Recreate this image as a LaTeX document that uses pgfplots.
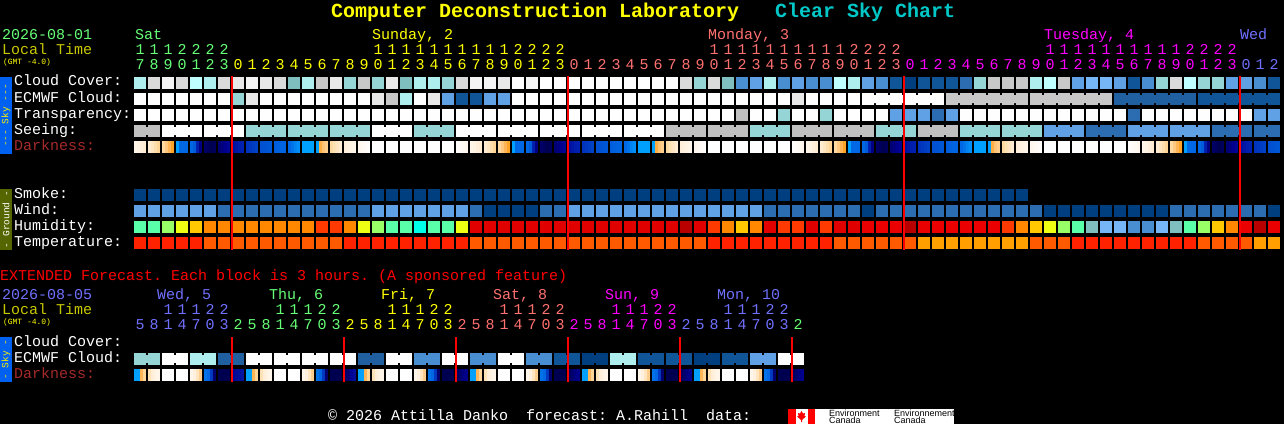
\documentclass[border=0pt]{standalone}
\usepackage{fontspec}
\setmainfont{Liberation Mono}
\newfontfamily\sans{Liberation Sans}
\usepackage{pgfplots}
\pgfplotsset{compat=1.18}
\pgfdeclareplotmark{cell}{\pgfpathrectangle{\pgfpoint{-6pt}{-6pt}}{\pgfpoint{12pt}{12pt}}\pgfusepathqfill}
\pgfdeclareplotmark{slice}{\pgfpathrectangle{\pgfpoint{-1.5pt}{-6pt}}{\pgfpoint{3pt}{12pt}}\pgfusepathqfill}
\pgfdeclareplotmark{linktwo}{\pgfpathrectangle{\pgfpoint{-1.5pt}{-4pt}}{\pgfpoint{3pt}{8pt}}\pgfusepathqfill}
\pgfdeclareplotmark{linkthree}{\pgfpathrectangle{\pgfpoint{-8.5pt}{-4pt}}{\pgfpoint{3pt}{8pt}}\pgfpathrectangle{\pgfpoint{5.5pt}{-4pt}}{\pgfpoint{3pt}{8pt}}\pgfusepathqfill}
\pgfdeclareplotmark{linksix}{\pgfpathrectangle{\pgfpoint{-29.5pt}{-4pt}}{\pgfpoint{3pt}{8pt}}\pgfpathrectangle{\pgfpoint{-15.5pt}{-4pt}}{\pgfpoint{3pt}{8pt}}\pgfpathrectangle{\pgfpoint{-1.5pt}{-4pt}}{\pgfpoint{3pt}{8pt}}\pgfpathrectangle{\pgfpoint{12.5pt}{-4pt}}{\pgfpoint{3pt}{8pt}}\pgfpathrectangle{\pgfpoint{26.5pt}{-4pt}}{\pgfpoint{3pt}{8pt}}\pgfusepathqfill}
\pgfplotsset{
 colormap={all}{rgb255(0pt)=(0,0,80) rgb255(10pt)=(0,0,140) rgb255(20pt)=(0,32,176) rgb255(30pt)=(0,80,208) rgb255(40pt)=(0,104,228)
  rgb255(50pt)=(0,160,255) rgb255(55pt)=(0,160,200) rgb255(56pt)=(255,160,32) rgb255(65pt)=(255,192,112) rgb255(75pt)=(255,220,168)
  rgb255(85pt)=(255,238,216) rgb255(95pt)=(255,248,240) rgb255(100pt)=(254,254,254)
  rgb255(200pt)=(0,63,127) rgb255(201pt)=(17,85,153) rgb255(202pt)=(44,108,176) rgb255(203pt)=(74,142,210) rgb255(204pt)=(96,160,228) rgb255(205pt)=(118,182,246)
  rgb255(206pt)=(128,191,191) rgb255(207pt)=(150,213,213) rgb255(208pt)=(174,238,238) rgb255(209pt)=(191,255,255) rgb255(210pt)=(192,192,192) rgb255(211pt)=(200,200,200)
  rgb255(212pt)=(218,218,218) rgb255(213pt)=(232,232,232) rgb255(214pt)=(244,244,244) rgb255(215pt)=(254,254,254)
  rgb255(216pt)=(90,255,170) rgb255(217pt)=(153,255,102) rgb255(218pt)=(238,255,20) rgb255(219pt)=(255,200,0) rgb255(220pt)=(255,136,0) rgb255(221pt)=(255,58,0)
  rgb255(222pt)=(224,0,0) rgb255(223pt)=(184,0,0) rgb255(224pt)=(0,255,232) rgb255(225pt)=(255,34,0) rgb255(226pt)=(255,90,0) rgb255(227pt)=(255,160,0) rgb255(228pt)=(32,96,160) rgb255(229pt)=(234,0,0)},
 pts/.style={only marks,scatter,scatter/use mapped color={fill=mapped color,draw=none},forget plot},
 }
\tikzset{
 t/.style={anchor=base west,inner sep=0pt,outer sep=0pt,text=#1,font=\fontsize{15}{15}\selectfont},
 d/.style={anchor=base,inner sep=0pt,outer sep=0pt,text=#1,font=\fontsize{15}{15}\selectfont},
 big/.style={anchor=base west,inner sep=0pt,outer sep=0pt,text=#1,font=\fontsize{20}{20}\selectfont\bfseries},
 tiny/.style={anchor=base west,inner sep=0pt,outer sep=0pt,text=#1,font=\fontsize{8}{8}\selectfont},
 side/.style={inner sep=0pt,outer sep=0pt,rotate=90,text=#1,font=\fontsize{9.5}{9.5}\selectfont},
 lg/.style={anchor=base west,inner sep=0pt,outer sep=0pt,text=black,font=\sans\fontsize{9}{9}\selectfont},
}
\definecolor{cSat}{RGB}{102,255,119}
\definecolor{cSun}{RGB}{255,255,0}
\definecolor{cMon}{RGB}{255,112,112}
\definecolor{cTue}{RGB}{255,0,255}
\definecolor{cWed}{RGB}{112,112,255}
\definecolor{cLoc}{RGB}{200,200,0}
\definecolor{cDark}{RGB}{165,42,42}
\definecolor{cCyan}{RGB}{0,200,200}
\definecolor{cSky}{RGB}{0,96,240}
\definecolor{cGnd}{RGB}{85,102,0}
\newcommand\row[2]{\addplot[pts,mark=cell,point meta={\thisrowno{0}+200}] table[row sep=\\,header=false,x expr=\coordindex,y expr=#1]{#2};}
\newcommand\links[3]{\addplot[pts,mark=#1,point meta={\thisrowno{1}+200}] table[row sep=\\,header=false,x index=0,y expr=#2]{#3};}
\newcommand\dark[2]{\addplot[pts,mark=slice,point meta={\thisrowno{0}}] table[row sep=\\,header=false,x expr={floor((\coordindex+0.5)/4)+(\coordindex-4*floor((\coordindex+0.5)/4)-1.5)*3/14},y expr=#1]{#2};}
% hour labels: start column, colour, tens baseline, units baseline, hours
\newcommand\hours[5]{\foreach \h [count=\c from #1] in {#5}{%
  \pgfmathsetmacro\xx{140+14*\c}\pgfmathtruncatemacro\tn{\h/10}\pgfmathtruncatemacro\un{mod(\h,10)}%
  \ifnum\h>9 \node[d=#2] at (\xx,#3) {\tn};\fi
  \node[d=#2] at (\xx,#4) {\un};}}
\begin{document}
\frenchspacing
\begin{tikzpicture}
\fill[black] (0,0) rectangle (1284pt,424pt);
\begin{axis}[hide axis,scale only axis,width=1284pt,height=424pt,xmin=-10,xmax=81.7142857,ymin=0,ymax=424,y dir=reverse,colormap name=all,point meta min=0,point meta max=229]
% Cloud Cover
\row{83}{8\\12\\14\\12\\9\\8\\12\\13\\14\\13\\12\\6\\8\\11\\13\\7\\11\\7\\13\\6\\8\\8\\7\\12\\14\\14\\13\\15\\14\\15\\15\\15\\15\\15\\15\\15\\15\\15\\15\\12\\7\\12\\6\\3\\4\\8\\3\\4\\3\\3\\9\\8\\4\\3\\1\\0\\1\\1\\1\\2\\7\\11\\11\\11\\8\\9\\11\\4\\5\\5\\4\\1\\3\\7\\12\\9\\7\\7\\4\\4\\3\\1\\}
% ECMWF Cloud
\row{99}{15\\15\\15\\15\\15\\15\\15\\7\\13\\15\\15\\15\\15\\15\\15\\15\\15\\13\\11\\8\\15\\13\\4\\1\\1\\4\\4\\15\\15\\15\\15\\15\\15\\15\\15\\15\\15\\15\\15\\15\\15\\15\\15\\15\\15\\15\\15\\13\\15\\15\\15\\15\\15\\15\\15\\15\\15\\15\\11\\11\\11\\11\\11\\11\\11\\11\\11\\11\\11\\11\\28\\28\\28\\28\\28\\28\\1\\1\\1\\1\\1\\1\\}
\links{linksix}{99}{54.5 15\\60.5 11\\66.5 11\\72.5 28\\78.5 1\\}
% Transparency
\row{115}{15\\15\\15\\15\\15\\15\\15\\15\\15\\15\\15\\15\\15\\15\\15\\15\\15\\15\\15\\15\\15\\15\\15\\15\\15\\15\\15\\15\\15\\15\\15\\15\\15\\15\\15\\15\\15\\15\\15\\15\\15\\15\\15\\10\\15\\15\\7\\15\\15\\7\\15\\15\\15\\15\\4\\4\\4\\2\\4\\15\\15\\15\\15\\15\\15\\15\\15\\15\\15\\15\\15\\2\\15\\15\\15\\15\\15\\15\\15\\15\\4\\4\\}
% Seeing
\row{131}{10\\10\\15\\15\\15\\15\\15\\15\\7\\7\\7\\7\\7\\7\\7\\7\\7\\15\\15\\15\\7\\7\\7\\15\\15\\15\\15\\15\\15\\15\\15\\15\\15\\15\\15\\15\\15\\15\\10\\10\\10\\10\\10\\10\\7\\7\\7\\10\\10\\10\\10\\10\\10\\7\\7\\7\\10\\10\\10\\7\\7\\7\\7\\7\\7\\4\\4\\4\\2\\2\\2\\4\\4\\4\\4\\4\\4\\2\\2\\2\\2\\2\\}
\links{linkthree}{131}{3 15\\6 15\\9 7\\12 7\\15 7\\18 15\\21 7\\24 15\\27 15\\30 15\\33 15\\36 15\\39 10\\42 10\\45 7\\48 10\\51 10\\54 7\\57 10\\60 7\\63 7\\66 4\\69 2\\72 4\\75 4\\78 2\\}
\links{linktwo}{131}{0.5 10\\80.5 2\\}
% Darkness
\dark{147}{92\\90\\87\\84\\84\\80\\76\\72\\74\\68\\62\\57\\50\\40\\40\\40\\40\\35\\20\\8\\4\\2\\0\\2\\6\\8\\10\\12\\15\\17\\19\\20\\24\\25\\26\\27\\30\\31\\32\\33\\36\\37\\38\\38\\40\\42\\45\\47\\50\\50\\50\\50\\50\\60\\66\\70\\74\\78\\80\\84\\86\\88\\90\\92\\94\\96\\97\\99\\100\\100\\100\\100\\100\\100\\100\\100\\100\\100\\100\\100\\100\\100\\100\\100\\100\\100\\100\\100\\100\\100\\100\\100\\99\\97\\96\\94\\
92\\90\\87\\84\\84\\80\\76\\72\\74\\68\\62\\57\\50\\40\\40\\40\\40\\35\\20\\8\\4\\2\\0\\2\\6\\8\\10\\12\\15\\17\\19\\20\\24\\25\\26\\27\\30\\31\\32\\33\\36\\37\\38\\38\\40\\42\\45\\47\\50\\50\\50\\50\\50\\60\\66\\70\\74\\78\\80\\84\\86\\88\\90\\92\\94\\96\\97\\99\\100\\100\\100\\100\\100\\100\\100\\100\\100\\100\\100\\100\\100\\100\\100\\100\\100\\100\\100\\100\\100\\100\\100\\100\\99\\97\\96\\94\\
92\\90\\87\\84\\84\\80\\76\\72\\74\\68\\62\\57\\50\\40\\40\\40\\40\\35\\20\\8\\4\\2\\0\\2\\6\\8\\10\\12\\15\\17\\19\\20\\24\\25\\26\\27\\30\\31\\32\\33\\36\\37\\38\\38\\40\\42\\45\\47\\50\\50\\50\\50\\50\\60\\66\\70\\74\\78\\80\\84\\86\\88\\90\\92\\94\\96\\97\\99\\100\\100\\100\\100\\100\\100\\100\\100\\100\\100\\100\\100\\100\\100\\100\\100\\100\\100\\100\\100\\100\\100\\100\\100\\99\\97\\96\\94\\
92\\90\\87\\84\\84\\80\\76\\72\\74\\68\\62\\57\\50\\40\\40\\40\\40\\35\\20\\8\\4\\2\\0\\2\\6\\8\\10\\12\\15\\17\\19\\20\\24\\25\\26\\27\\30\\31\\32\\33\\}
% Smoke
\row{195}{0\\0\\0\\0\\0\\0\\0\\0\\0\\0\\0\\0\\0\\0\\0\\0\\0\\0\\0\\0\\0\\0\\0\\0\\0\\0\\0\\0\\0\\0\\0\\0\\0\\0\\0\\0\\0\\0\\0\\0\\0\\0\\0\\0\\0\\0\\0\\0\\0\\0\\0\\0\\0\\0\\0\\0\\0\\0\\0\\0\\0\\0\\0\\0\\}
% Wind
\row{211}{4\\4\\4\\4\\4\\4\\2\\2\\2\\2\\2\\2\\2\\2\\2\\2\\2\\4\\4\\4\\4\\4\\4\\4\\2\\0\\0\\0\\0\\2\\2\\4\\4\\4\\4\\4\\4\\4\\4\\4\\4\\4\\4\\4\\4\\2\\2\\2\\2\\2\\2\\2\\0\\2\\2\\2\\2\\2\\2\\2\\2\\2\\2\\2\\2\\0\\0\\0\\0\\0\\0\\0\\0\\0\\2\\2\\2\\2\\2\\2\\2\\0\\}
% Humidity
\row{227}{16\\16\\17\\18\\19\\20\\20\\20\\20\\20\\20\\20\\20\\21\\21\\20\\18\\17\\16\\16\\24\\16\\16\\18\\22\\22\\22\\22\\22\\22\\22\\22\\22\\22\\22\\22\\22\\22\\22\\23\\22\\21\\20\\19\\20\\22\\21\\21\\22\\21\\22\\22\\29\\29\\29\\23\\29\\29\\29\\29\\29\\29\\21\\20\\19\\18\\17\\16\\6\\5\\5\\3\\3\\5\\6\\16\\17\\19\\20\\29\\23\\29\\}
% Temperature
\row{243}{25\\25\\25\\25\\25\\26\\26\\26\\26\\26\\26\\26\\26\\26\\26\\25\\25\\25\\25\\25\\25\\25\\25\\25\\26\\26\\26\\26\\26\\26\\26\\26\\26\\26\\26\\26\\26\\26\\26\\26\\26\\25\\25\\25\\25\\25\\25\\25\\25\\25\\26\\26\\26\\26\\26\\26\\27\\27\\27\\27\\27\\27\\27\\27\\26\\26\\26\\25\\25\\25\\25\\25\\25\\25\\25\\25\\26\\26\\26\\26\\27\\27\\}
% Extended ECMWF Cloud
\row{359}{7\\7\\15\\15\\8\\8\\28\\28\\15\\15\\15\\15\\15\\15\\15\\15\\28\\28\\15\\15\\3\\3\\15\\15\\3\\3\\15\\15\\3\\3\\1\\1\\0\\0\\8\\8\\1\\1\\1\\1\\0\\0\\1\\1\\4\\4\\15\\15\\}
\links{linktwo}{359}{0.5 7\\2.5 15\\4.5 8\\6.5 28\\8.5 15\\10.5 15\\12.5 15\\14.5 15\\16.5 28\\18.5 15\\20.5 3\\22.5 15\\24.5 3\\26.5 15\\28.5 3\\30.5 1\\32.5 0\\34.5 8\\36.5 1\\38.5 1\\40.5 0\\42.5 1\\44.5 4\\46.5 15\\}
% Extended Darkness
\dark{375}{50\\50\\62\\72\\78\\85\\90\\92\\100\\100\\100\\100\\100\\100\\100\\100\\92\\88\\80\\70\\42\\40\\25\\5\\0\\0\\0\\0\\12\\14\\15\\16\\
50\\50\\62\\72\\78\\85\\90\\92\\100\\100\\100\\100\\100\\100\\100\\100\\92\\88\\80\\70\\42\\40\\25\\5\\0\\0\\0\\0\\4\\6\\12\\14\\
50\\50\\62\\72\\78\\85\\90\\92\\100\\100\\100\\100\\100\\100\\100\\100\\92\\88\\80\\70\\42\\40\\25\\5\\0\\0\\0\\0\\2\\5\\8\\10\\
50\\50\\62\\72\\78\\85\\90\\92\\100\\100\\100\\100\\100\\100\\100\\100\\92\\88\\80\\70\\42\\40\\25\\5\\0\\0\\0\\0\\2\\5\\8\\10\\
50\\50\\62\\72\\78\\85\\90\\92\\100\\100\\100\\100\\100\\100\\100\\100\\92\\88\\80\\70\\42\\40\\25\\5\\0\\0\\0\\0\\2\\5\\8\\10\\
50\\50\\62\\72\\78\\85\\90\\92\\100\\100\\100\\100\\100\\100\\100\\100\\92\\88\\80\\70\\42\\40\\25\\5\\0\\0\\0\\0\\2\\5\\8\\10\\}
\end{axis}
% Red day dividers, over the cells
\begin{axis}[hide axis,scale only axis,width=1284pt,height=424pt,xmin=-10,xmax=81.7142857,ymin=0,ymax=424,y dir=reverse]
\addplot[red,line width=2pt,forget plot] coordinates {(6.5714,76)(6.5714,250)};
\addplot[red,line width=2pt,forget plot] coordinates {(30.5714,76)(30.5714,250)};
\addplot[red,line width=2pt,forget plot] coordinates {(54.5714,76)(54.5714,250)};
\addplot[red,line width=2pt,forget plot] coordinates {(78.5714,76)(78.5714,250)};
\addplot[red,line width=2pt,forget plot] coordinates {(6.5714,337)(6.5714,382)};
\addplot[red,line width=2pt,forget plot] coordinates {(14.5714,337)(14.5714,382)};
\addplot[red,line width=2pt,forget plot] coordinates {(22.5714,337)(22.5714,382)};
\addplot[red,line width=2pt,forget plot] coordinates {(30.5714,337)(30.5714,382)};
\addplot[red,line width=2pt,forget plot] coordinates {(38.5714,337)(38.5714,382)};
\addplot[red,line width=2pt,forget plot] coordinates {(46.5714,337)(46.5714,382)};
\end{axis}
\begin{scope}[x=1pt,y=-1pt,yshift=424pt]
\node[big=cSun] at (331,18) {Computer Deconstruction Laboratory};
\node[big=cCyan] at (775,18) {Clear Sky Chart};
% Header, main
\node[t=cSat] at (2,40) {2026-08-01};
\node[t=cLoc] at (2,55) {Local Time};
\node[tiny=cSun] at (3,65) {(GMT -4.0)};
\node[t=cSat] at (135,40) {Sat};
\node[t=cSun] at (372,40) {Sunday, 2};
\node[t=cMon] at (708,40) {Monday, 3};
\node[t=cTue] at (1044,40) {Tuesday, 4};
\node[t=cWed] at (1240,40) {Wed};
\hours{0}{cSat}{55}{70}{17,18,19,20,21,22,23}
\hours{7}{cSun}{55}{70}{0,1,2,3,4,5,6,7,8,9,10,11,12,13,14,15,16,17,18,19,20,21,22,23}
\hours{31}{cMon}{55}{70}{0,1,2,3,4,5,6,7,8,9,10,11,12,13,14,15,16,17,18,19,20,21,22,23}
\hours{55}{cTue}{55}{70}{0,1,2,3,4,5,6,7,8,9,10,11,12,13,14,15,16,17,18,19,20,21,22,23}
\hours{79}{cWed}{55}{70}{0,1,2}
% Row labels
\node[t=white] at (14,86) {Cloud Cover:};
\node[t=white] at (14,102) {ECMWF Cloud:};
\node[t=white] at (14,118) {Transparency:};
\node[t=white] at (14,134) {Seeing:};
\node[t=cDark] at (14,150) {Darkness:};
\node[t=white] at (14,198) {Smoke:};
\node[t=white] at (14,214) {Wind:};
\node[t=white] at (14,230) {Humidity:};
\node[t=white] at (14,246) {Temperature:};
\node[t=red] at (0,280) {EXTENDED Forecast. Each block is 3 hours. (A sponsored feature)};
% Side bars
\fill[cSky] (0,77) rectangle (12,154);
\node[side=yellow] at (6,115.5) {-{}-{}- Sky -{}-{}-};
\fill[cGnd] (0,189) rectangle (12,250);
\node[side=white] at (6,219.5) {- Ground -};
\fill[cSky] (0,337) rectangle (12,382);
\node[side=yellow] at (6,359.5) {- Sky -};
% Header, extended
\node[t=cWed] at (2,299) {2026-08-05};
\node[t=cLoc] at (2,314) {Local Time};
\node[tiny=cSun] at (3,324) {(GMT -4.0)};
\node[t=cWed] at (157,299) {Wed, 5};
\node[t=cSat] at (269,299) {Thu, 6};
\node[t=cSun] at (381,299) {Fri, 7};
\node[t=cMon] at (493,299) {Sat, 8};
\node[t=cTue] at (605,299) {Sun, 9};
\node[t=cWed] at (717,299) {Mon, 10};
\hours{0}{cWed}{314}{329}{5,8,11,14,17,20,23}
\hours{7}{cSat}{314}{329}{2,5,8,11,14,17,20,23}
\hours{15}{cSun}{314}{329}{2,5,8,11,14,17,20,23}
\hours{23}{cMon}{314}{329}{2,5,8,11,14,17,20,23}
\hours{31}{cTue}{314}{329}{2,5,8,11,14,17,20,23}
\hours{39}{cWed}{314}{329}{2,5,8,11,14,17,20,23}
\hours{47}{cSat}{314}{329}{2}
\node[t=white] at (14,346) {Cloud Cover:};
\node[t=white] at (14,362) {ECMWF Cloud:};
\node[t=cDark] at (14,378) {Darkness:};
% Footer
\node[t=white] at (328,420) {© 2026 Attilla Danko\ \ forecast: A.Rahill\ \ data:};
\fill[white] (788,409) rectangle (954,424);
\fill[red] (788,409) rectangle (796,424);
\fill[red] (808,409) rectangle (815,424);
\fill[red] (801.5,411) -- (803,413.5) -- (805,413) -- (804.5,416) -- (806,416.5) -- (802,420) -- (802,422) -- (801,422) -- (801,420) -- (797,416.5) -- (798.5,416) -- (798,413) -- (800,413.5) -- cycle;
\node[lg] at (829,416) {Environment};
\node[lg] at (829,423.5) {Canada};
\node[lg] at (894,416) {Environnement};
\node[lg] at (894,423.5) {Canada};
\end{scope}
\end{tikzpicture}
\end{document}
